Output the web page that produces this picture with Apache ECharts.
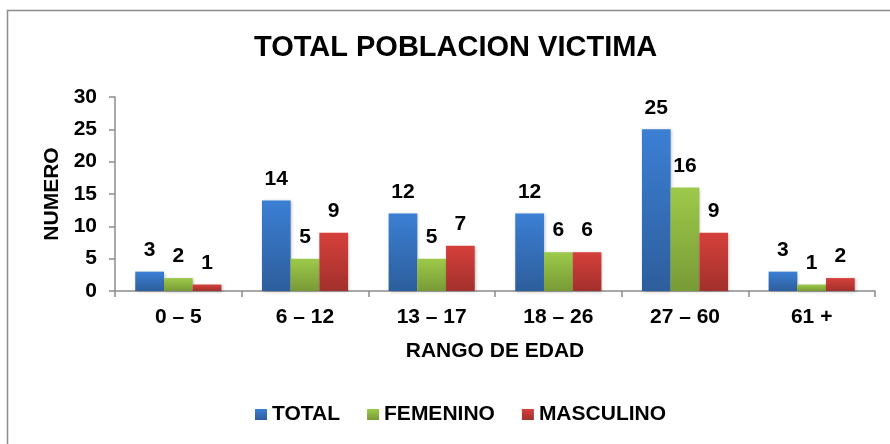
<!DOCTYPE html>
<html>
<head>
<meta charset="utf-8">
<script src="https://cdn.jsdelivr.net/npm/echarts@6/dist/echarts.min.js"></script>
<style>
  html, body { margin: 0; padding: 0; background: #fff; }
  #chart-panel { width: 890px; height: 444px; }
</style>
</head>
<body>
<div id="chart-panel"></div>
<script>
var categories = ['0 – 5', '6 – 12', '13 – 17', '18 – 26', '27 – 60', '61 +'];
var total = [3, 14, 12, 12, 25, 3];
var femenino = [2, 5, 5, 6, 16, 1];
var masculino = [1, 9, 7, 6, 9, 2];

(function () {
    var myChart = echarts.init(document.querySelector('#chart-panel'));
    var font = 'Liberation Sans, Arial, sans-serif';

    // degradado vertical como en Excel
    function grad(top, bottom) {
        return new echarts.graphic.LinearGradient(0, 0, 0, 1, [
            { offset: 0, color: top },
            { offset: 1, color: bottom }
        ]);
    }

    function barSeries(name, data, top, bottom) {
        return {
            name: name,
            type: 'bar',
            data: data,
            barGap: 0,
            barCategoryGap: '32%',
            itemStyle: {
                color: grad(top, bottom),
                shadowColor: 'rgba(0,0,0,0.25)',
                shadowBlur: 3,
                shadowOffsetX: 1,
                shadowOffsetY: 1
            },
            label: {
                show: true,
                position: 'top',
                distance: 11,
                color: '#000',
                fontFamily: font,
                fontWeight: 'bold',
                fontSize: 21
            }
        };
    }

    var option = {
        backgroundColor: '#fff',
        animation: false,
        graphic: [{
            type: 'rect',
            shape: { x: 7.5, y: 10.5, width: 900, height: 460 },
            style: { fill: 'none', stroke: '#8c8c8c', lineWidth: 1.5 },
            silent: true
        }],
        title: {
            text: 'TOTAL POBLACION VICTIMA',
            left: 249,
            top: 28,
            textStyle: {
                fontFamily: font,
                fontWeight: 'bold',
                fontSize: 29,
                color: '#000'
            }
        },
        legend: {
            bottom: 14,
            left: 250,
            itemWidth: 12,
            itemHeight: 11,
            itemGap: 27,
            icon: 'rect',
            textStyle: {
                fontFamily: font,
                fontWeight: 'bold',
                fontSize: 21,
                color: '#000'
            },
            data: ['TOTAL', 'FEMENINO', 'MASCULINO']
        },
        grid: {
            left: 115,
            right: 15,
            top: 97,
            bottom: 153
        },
        xAxis: {
            type: 'category',
            data: categories,
            name: 'RANGO DE EDAD',
            nameLocation: 'middle',
            nameGap: 50,
            nameTextStyle: {
                fontFamily: font,
                fontWeight: 'bold',
                fontSize: 21,
                color: '#000'
            },
            axisLine: { lineStyle: { color: '#8c8c8c', width: 1.5 } },
            axisTick: { show: true, length: 6, lineStyle: { color: '#8c8c8c', width: 1.5 } },
            axisLabel: {
                margin: 16,
                fontFamily: font,
                fontWeight: 'bold',
                fontSize: 21,
                color: '#000'
            }
        },
        yAxis: {
            type: 'value',
            min: 0,
            max: 30,
            interval: 5,
            name: 'NUMERO',
            nameLocation: 'middle',
            nameGap: 52,
            nameRotate: 90,
            nameTextStyle: {
                fontFamily: font,
                fontWeight: 'bold',
                fontSize: 21,
                color: '#000'
            },
            splitLine: { show: false },
            axisLine: { show: true, lineStyle: { color: '#8c8c8c', width: 1.5 } },
            axisTick: { show: true, length: 6, lineStyle: { color: '#8c8c8c', width: 1.5 } },
            axisLabel: {
                margin: 18,
                fontFamily: font,
                fontWeight: 'bold',
                fontSize: 21,
                color: '#000'
            }
        },
        series: [
            barSeries('TOTAL', total, '#3b7fd4', '#2d5e9c'),
            barSeries('FEMENINO', femenino, '#9dca4a', '#789a36'),
            barSeries('MASCULINO', masculino, '#d6403b', '#a2302c')
        ]
    };

    myChart.setOption(option);
})();
</script>
</body>
</html>
